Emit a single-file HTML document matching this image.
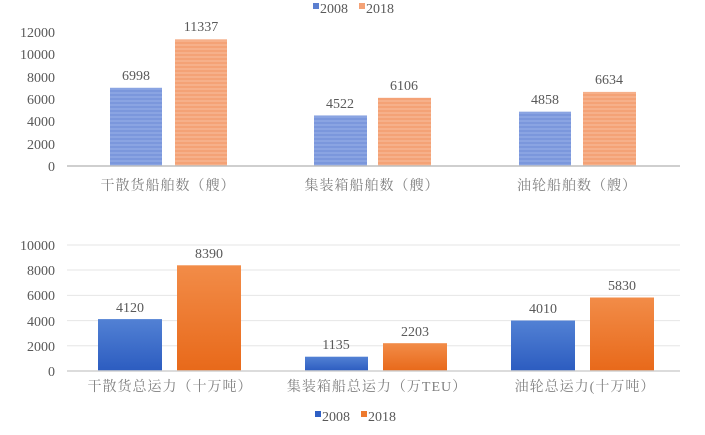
<!DOCTYPE html>
<html><head><meta charset="utf-8"><style>
body{margin:0;background:#fff}
</style></head><body>
<svg width="705" height="430" viewBox="0 0 705 430" xmlns="http://www.w3.org/2000/svg" font-family="'Liberation Serif','Noto Serif CJK SC',serif" fill="#595959">
<defs>
<pattern id="sb" width="4" height="4" patternUnits="userSpaceOnUse"><rect width="4" height="4" fill="#7b97dc"/><rect width="4" height="2" fill="#8aa4e2"/></pattern>
<pattern id="so" width="4" height="4" patternUnits="userSpaceOnUse"><rect width="4" height="4" fill="#f4a276"/><rect width="4" height="2" fill="#f6b08a"/></pattern>
<linearGradient id="gb" x1="0" y1="0" x2="0" y2="1"><stop offset="0" stop-color="#5281d4"/><stop offset="1" stop-color="#2c5cc0"/></linearGradient>
<linearGradient id="go" x1="0" y1="0" x2="0" y2="1"><stop offset="0" stop-color="#f28c48"/><stop offset="1" stop-color="#e8691a"/></linearGradient>
</defs>
<rect x="313" y="3" width="6" height="6" fill="#5b7fd0"/><text x="320" y="13" font-size="14">2008</text>
<rect x="359" y="3" width="6" height="6" fill="#f4a276"/><text x="366" y="13" font-size="14">2018</text>
<g font-size="14" text-anchor="end">
<text x="55" y="37">12000</text><text x="55" y="59">10000</text><text x="55" y="82">8000</text><text x="55" y="104">6000</text><text x="55" y="126">4000</text><text x="55" y="149">2000</text><text x="55" y="171">0</text>
</g>
<rect x="110" y="87.8" width="52" height="78.2" fill="url(#sb)"/>
<rect x="175" y="39.4" width="52" height="126.6" fill="url(#so)"/>
<rect x="314" y="115.5" width="53" height="50.5" fill="url(#sb)"/>
<rect x="378" y="97.8" width="53" height="68.2" fill="url(#so)"/>
<rect x="519" y="111.7" width="52" height="54.3" fill="url(#sb)"/>
<rect x="583" y="91.9" width="53" height="74.1" fill="url(#so)"/>
<line x1="67" y1="166" x2="680" y2="166" stroke="#bfbfbf" stroke-width="1.5"/>
<g font-size="14" text-anchor="middle">
<text x="136" y="80">6998</text><text x="201" y="31">11337</text>
<text x="340" y="108">4522</text><text x="404" y="90">6106</text>
<text x="545" y="104">4858</text><text x="609" y="84">6634</text>
</g>
<g font-size="14" text-anchor="middle" fill="#808080" letter-spacing="1">
<text x="168" y="190">干散货船舶数（艘）</text>
<text x="372" y="190">集装箱船舶数（艘）</text>
<text x="577" y="190">油轮船舶数（艘）</text>
</g>
<g stroke="#e6e6e6" stroke-width="1">
<line x1="67" y1="245" x2="680" y2="245"/><line x1="67" y1="270" x2="680" y2="270"/><line x1="67" y1="295.4" x2="680" y2="295.4"/><line x1="67" y1="320.6" x2="680" y2="320.6"/><line x1="67" y1="345.8" x2="680" y2="345.8"/>
</g>
<g font-size="14" text-anchor="end">
<text x="55" y="250">10000</text><text x="55" y="275">8000</text><text x="55" y="300">6000</text><text x="55" y="326">4000</text><text x="55" y="351">2000</text><text x="55" y="376">0</text>
</g>
<rect x="98" y="319.1" width="64" height="51.9" fill="url(#gb)"/>
<rect x="177" y="265.3" width="64" height="105.7" fill="url(#go)"/>
<rect x="305" y="356.7" width="63" height="14.3" fill="url(#gb)"/>
<rect x="383" y="343.2" width="64" height="27.8" fill="url(#go)"/>
<rect x="511" y="320.5" width="64" height="50.5" fill="url(#gb)"/>
<rect x="590" y="297.5" width="64" height="73.5" fill="url(#go)"/>
<line x1="67" y1="371" x2="680" y2="371" stroke="#d0d0d0" stroke-width="1.5"/>
<g font-size="14" text-anchor="middle">
<text x="130" y="312">4120</text><text x="209" y="258">8390</text>
<text x="336" y="349">1135</text><text x="415" y="336">2203</text>
<text x="543" y="313">4010</text><text x="622" y="290">5830</text>
</g>
<g font-size="14" text-anchor="middle" fill="#808080" letter-spacing="1">
<text x="170" y="391">干散货总运力（十万吨）</text>
<text x="377" y="391">集装箱船总运力（万TEU）</text>
<text x="585" y="391">油轮总运力(十万吨）</text>
</g>
<rect x="315" y="411" width="6" height="6" fill="#2f5fc4"/><text x="322" y="421" font-size="14">2008</text>
<rect x="361" y="411" width="6" height="6" fill="#ee7a2e"/><text x="368" y="421" font-size="14">2018</text>
</svg>
</body></html>
